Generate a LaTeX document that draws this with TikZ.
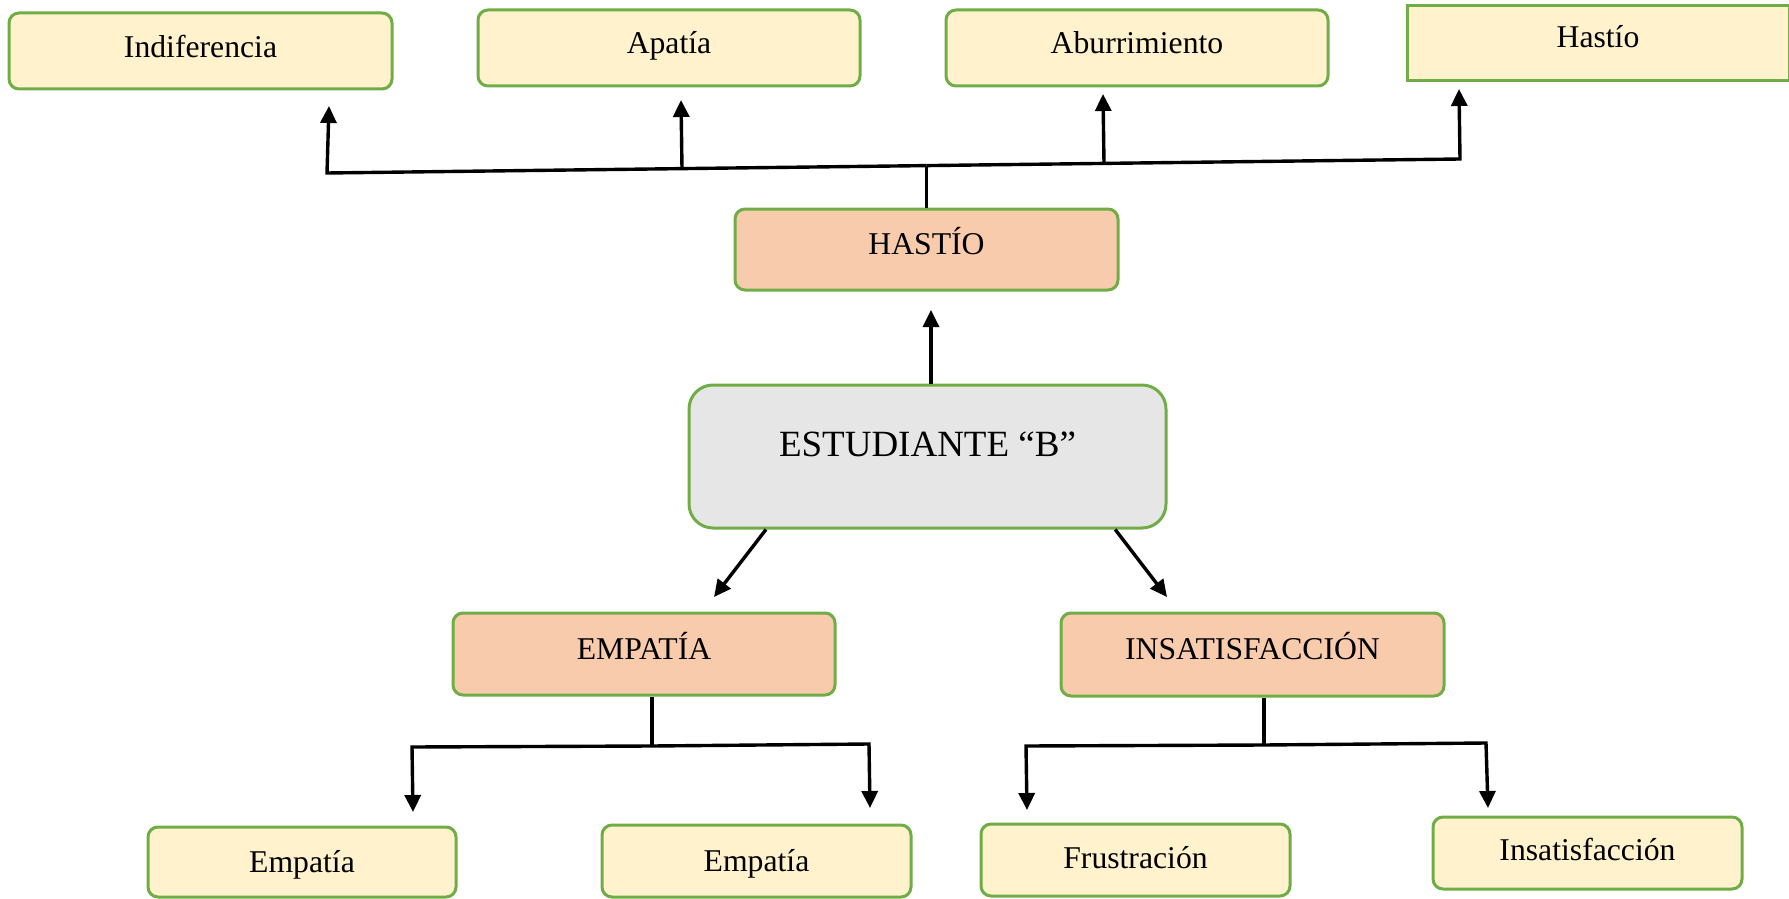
\documentclass[tikz,border=0pt]{standalone}
\usepackage{fontspec}
\setmainfont{Liberation Serif}
\usetikzlibrary{arrows.meta,calc}
\definecolor{gborder}{HTML}{70AD47}
\definecolor{yfill}{HTML}{FFF2CC}
\definecolor{pfill}{HTML}{F8CBAD}
\definecolor{gfill}{HTML}{E6E6E6}
\tikzset{
  box/.style={draw=gborder, line width=1.5pt, rounded corners=5pt, inner sep=0pt, text depth=0pt,
    font=\fontsize{15.85}{18}\selectfont},
  leaf/.style={box, fill=yfill},
  mid/.style={box, fill=pfill},
  bl/.style={text height=#1},
  sz/.style 2 args={minimum width=#1, minimum height=#2},
  conn/.style={line width=1.7pt, draw=black, line join=miter},
  arr/.style={conn, -{Triangle[width=8pt,length=8.5pt]}},
}
\begin{document}
\begin{tikzpicture}[x=0.5pt,y=-0.5pt]
\useasboundingbox (0,0) rectangle (1789,899);
% top row
\node[leaf, sz={191.5pt}{38pt}, bl=7pt] (ind) at (200.5,51) {Indiferencia};
\node[leaf, sz={191pt}{38pt}, bl=5.5pt] (apa) at (669,48) {Apatía};
\node[leaf, sz={191pt}{38pt}, bl=6pt] (abu) at (1137,48) {Aburrimiento};
\node[leaf, sharp corners, sz={191pt}{37.5pt}, bl=4pt] (has) at (1598,43.5) {Hastío};
% middle
\node[mid, sz={191.5pt}{40.5pt}, bl=4.5pt] (HAS) at (926.5,249.5) {HASTÍO};
\node[box, fill=gfill, rounded corners=12pt, sz={238.5pt}{71.5pt}, bl=0pt,
  font=\fontsize{18.5}{22}\selectfont] (est) at (927.5,456.5) {ESTUDIANTE “B”};
\node[mid, sz={191pt}{41pt}, bl=5pt] (EMP) at (644,654) {EMPATÍA};
\node[mid, sz={191.5pt}{41.5pt}, bl=4.5pt] (INS) at (1252.5,654.5) {INSATISFACCIÓN};
% bottom row
\node[leaf, sz={154pt}{35pt}, bl=10pt] (emp1) at (302,862) {Empatía};
\node[leaf, sz={154.5pt}{36pt}, bl=10pt] (emp2) at (756.5,861) {Empatía};
\node[leaf, sz={154.5pt}{36pt}, bl=8pt] (fru) at (1135.5,860) {Frustración};
\node[leaf, sz={154.5pt}{36pt}, bl=7pt] (ins) at (1587.5,853) {Insatisfacción};

% top connectors
\coordinate (b1) at (327,173);
\coordinate (b4) at (1460,159);
\coordinate (bh) at (926.5,165.6);
\coordinate (b2) at (682,168.6);
\coordinate (b3) at (1104,163.4);
\coordinate (t1) at (329,106);
\coordinate (t2) at (681,100);
\coordinate (t3) at (1103,94);
\coordinate (t4) at (1459,89);
\draw[conn] (HAS.north) -- (bh);
\draw[arr] (bh) -- (b1) -- (t1);
\draw[arr] (bh) -- (b4) -- (t4);
\draw[arr] (b2) -- (t2);
\draw[arr] (b3) -- (t3);

% estudiante to hastio
\coordinate (t5) at (931,310);
\draw[arr] (t5 |- est.north) -- (t5);

% diagonals
\coordinate (t6) at (714,597);
\coordinate (t7) at (1167,597);
\draw[arr] ($(est.south west)!0.1635!(est.south east)$) -- (t6);
\draw[arr] ($(est.south west)!0.891!(est.south east)$) -- (t7);

% empatia tree
\coordinate (e0) at (652,746);
\coordinate (e1) at (412,747);
\coordinate (e2) at (869,744);
\coordinate (t8) at (413,812);
\coordinate (t9) at (870,808);
\draw[conn] (e0 |- EMP.south) -- (e0);
\draw[arr] (e0) -- (e1) -- (t8);
\draw[arr] (e0) -- (e2) -- (t9);

% insatisfaccion tree
\coordinate (i0) at (1264,745);
\coordinate (i1) at (1026,746);
\coordinate (i2) at (1486,743);
\coordinate (t10) at (1027,810);
\coordinate (t11) at (1488,808);
\draw[conn] (i0 |- INS.south) -- (i0);
\draw[arr] (i0) -- (i1) -- (t10);
\draw[arr] (i0) -- (i2) -- (t11);
\end{tikzpicture}
\end{document}
